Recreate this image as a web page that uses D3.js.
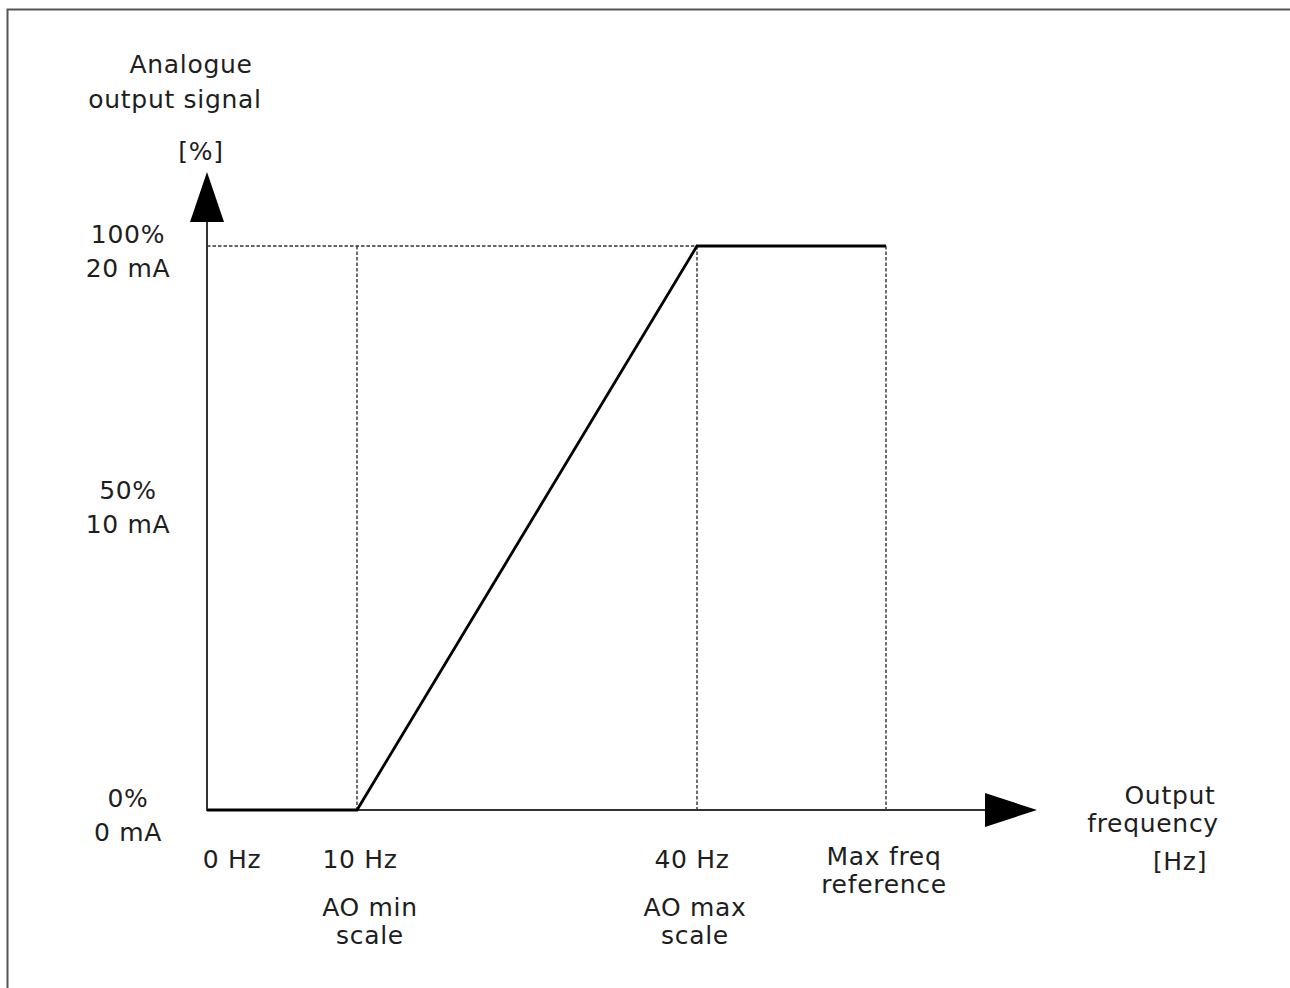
<!DOCTYPE html>
<html>
<head>
<meta charset="utf-8">
<script src="https://cdn.jsdelivr.net/npm/d3@7"></script>
<style>
    html, body { margin: 0; padding: 0; background: #ffffff; }
    svg text { font-family: "DejaVu Sans", Verdana, sans-serif; font-size: 25px; letter-spacing: 0.7px; fill: #1e1e1e; }
</style>
</head>
<body>
<script>
// 输出频率（Hz）：0 Hz、AO 最小刻度、AO 最大刻度、最大频率参考
const freqPoints = [0, 10, 40, 50];
const freqLabels = [['0 Hz'], ['10 Hz', 'AO min', 'scale'], ['40 Hz', 'AO max', 'scale'], ['Max freq', 'reference']];
// 模拟输出信号（%）
const signalValues = [0, 0, 100, 100];
// 纵轴刻度
const signalTicks = [0, 50, 100];
const signalTickLabels = [['0%', '0 mA'], ['50%', '10 mA'], ['100%', '20 mA']];
// 画虚线参考的频率点
const guideFreqs = [10, 40, 50];

const svgWidth = 1290, svgHeight = 988;

const svg = d3.select('body')
    .append('svg')
    .attr('width', svgWidth)
    .attr('height', svgHeight);

// 外框（只有上边和左边）
svg.append('path')
    .attr('d', `M 7.5 ${svgHeight} L 7.5 9.5 L ${svgWidth} 9.5`)
    .attr('fill', 'none')
    .attr('stroke', '#555555')
    .attr('stroke-width', 2);

// 比例尺：频率轴不是等距的，用分段线性
let x = d3.scaleLinear().domain(freqPoints).range([207, 357, 697, 886]);
let y = d3.scaleLinear().domain([0, 100]).range([810, 246]);

const axisColor = '#333333';

// 虚线参考线
let guides = svg.append('g').attr('class', 'guides')
    .attr('stroke', axisColor)
    .attr('stroke-width', 1.4)
    .attr('stroke-dasharray', '3.5,2');
guides.append('line')
    .attr('x1', x(0)).attr('x2', x(d3.max(freqPoints)))
    .attr('y1', y(100)).attr('y2', y(100));
guides.selectAll('.vguide')
    .data(guideFreqs)
    .enter()
    .append('line')
    .attr('class', 'vguide')
    .attr('x1', d => x(d)).attr('x2', d => x(d))
    .attr('y1', y(100)).attr('y2', y(0));

// 坐标轴
svg.append('line')
    .attr('x1', x(0)).attr('x2', x(0))
    .attr('y1', y(0) + 1).attr('y2', 222)
    .attr('stroke', axisColor).attr('stroke-width', 2);
svg.append('line')
    .attr('x1', x(0) - 1).attr('x2', 986)
    .attr('y1', y(0)).attr('y2', y(0))
    .attr('stroke', axisColor).attr('stroke-width', 2);
// 箭头
svg.append('path')
    .attr('d', `M ${x(0)} 172 L ${x(0) + 17} 222 L ${x(0) - 17} 222 Z`)
    .attr('fill', '#000000');
svg.append('path')
    .attr('d', `M 1037 ${y(0)} L 985 ${y(0) - 17} L 985 ${y(0) + 17} Z`)
    .attr('fill', '#000000');

// 信号曲线
let line = d3.line()
    .x((d, i) => x(freqPoints[i]))
    .y(d => y(d));
svg.append('path')
    .datum(signalValues)
    .attr('d', line)
    .attr('fill', 'none')
    .attr('stroke', '#000000')
    .attr('stroke-width', 2.8)
    .attr('stroke-linejoin', 'miter');

// 纵轴刻度标签
let yLabels = svg.append('g').attr('class', 'yLabels')
    .selectAll('text')
    .data(signalTicks)
    .enter()
    .append('text')
    .attr('text-anchor', 'middle')
    .attr('x', 128)
    .attr('y', d => y(d) - 3 + (d === 50 ? -26 : 0));
yLabels.selectAll('tspan')
    .data((d, i) => signalTickLabels[i])
    .enter()
    .append('tspan')
    .attr('x', 128)
    .attr('dy', (d, i) => i === 0 ? 0 : 34)
    .text(d => d);

// 横轴刻度标签
const xShift = [25, 3, -5, -2];
let xLabels = svg.append('g').attr('class', 'xLabels')
    .selectAll('text')
    .data(freqPoints)
    .enter()
    .append('text')
    .attr('text-anchor', 'middle')
    .attr('x', (d, i) => x(d) + xShift[i])
    .attr('y', (d, i) => i === 3 ? 865 : 868);
xLabels.selectAll('tspan')
    .data((d, i) => freqLabels[i].map(t => ({t, px: x(d) + xShift[i]})))
    .enter()
    .append('tspan')
    .attr('x', d => d.px + (d.t.startsWith('AO') || d.t === 'scale' ? (d.px < 500 ? 10 : 3) : 0))
    .attr('dy', (d, i) => i === 0 ? 0 : (d.t.startsWith('AO') ? 48 : 28))
    .text(d => d.t);

// 轴标题
const yTitle = [['Analogue', 191, 73], ['output signal', 175, 108], ['[%]', 201, 160]];
const xTitle = [['Output', 1170, 804], ['frequency', 1153, 832], ['[Hz]', 1180, 870]];
svg.append('g').selectAll('text')
    .data(yTitle.concat(xTitle))
    .enter()
    .append('text')
    .attr('text-anchor', 'middle')
    .attr('x', d => d[1])
    .attr('y', d => d[2])
    .text(d => d[0]);
</script>
</body>
</html>
